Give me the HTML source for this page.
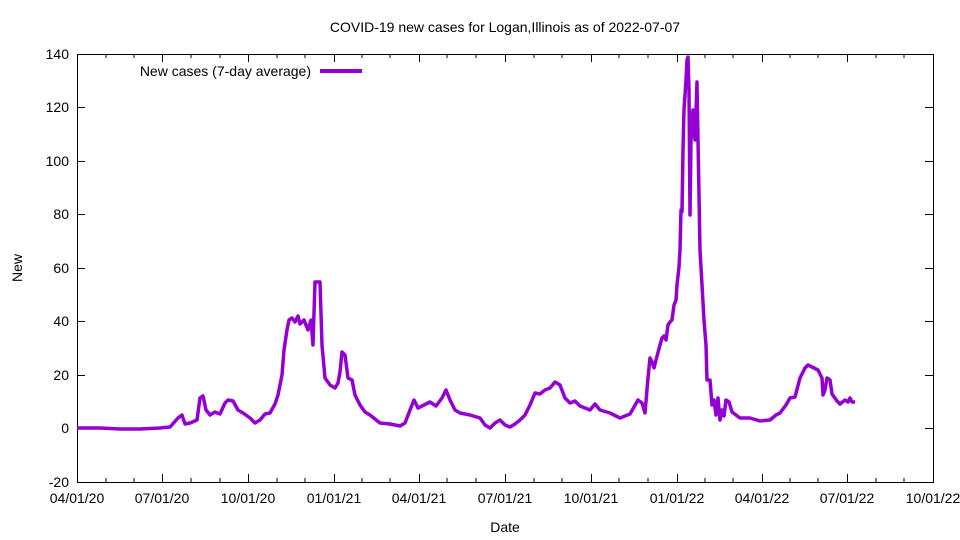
<!DOCTYPE html>
<html><head><meta charset="utf-8"><style>body{margin:0;background:#fff}svg{display:block}text{font-family:"Liberation Sans",sans-serif;font-size:14px;fill:#000}</style></head><body>
<svg width="960" height="540" viewBox="0 0 960 540">
<rect x="77.5" y="54.5" width="856" height="428" fill="none" stroke="#000" stroke-width="1"/>
<g stroke="#000" stroke-width="1">
<path d="M77 482.5h8M933 482.5h-8M77 428.5h8M933 428.5h-8M77 375.5h8M933 375.5h-8M77 321.5h8M933 321.5h-8M77 268.5h8M933 268.5h-8M77 214.5h8M933 214.5h-8M77 161.5h8M933 161.5h-8M77 107.5h8M933 107.5h-8M77 54.5h8M933 54.5h-8"/>
<path d="M162.5 482v-8M162.5 54v8M248.5 482v-8M248.5 54v8M334.5 482v-8M334.5 54v8M419.5 482v-8M419.5 54v8M505.5 482v-8M505.5 54v8M591.5 482v-8M591.5 54v8M677.5 482v-8M677.5 54v8M762.5 482v-8M762.5 54v8M847.5 482v-8M847.5 54v8"/>
<path d="M106 482v-4M106 54v4M134 482v-4M134 54v4M191 482v-4M191 54v4M220 482v-4M220 54v4M277 482v-4M277 54v4M305 482v-4M305 54v4M362 482v-4M362 54v4M390 482v-4M390 54v4M447 482v-4M447 54v4M476 482v-4M476 54v4M534 482v-4M534 54v4M562 482v-4M562 54v4M619 482v-4M619 54v4M648 482v-4M648 54v4M705 482v-4M705 54v4M733 482v-4M733 54v4M790 482v-4M790 54v4M818 482v-4M818 54v4M876 482v-4M876 54v4M904 482v-4M904 54v4"/>
</g>
<g text-anchor="end">
<text x="69" y="487">-20</text><text x="69" y="433">0</text><text x="69" y="380">20</text><text x="69" y="326">40</text><text x="69" y="273">60</text><text x="69" y="219">80</text><text x="69" y="166">100</text><text x="69" y="112">120</text><text x="69" y="59">140</text>
</g>
<g text-anchor="middle">
<text x="77" y="503">04/01/20</text><text x="162" y="503">07/01/20</text><text x="248" y="503">10/01/20</text><text x="334" y="503">01/01/21</text><text x="419" y="503">04/01/21</text><text x="505" y="503">07/01/21</text><text x="591" y="503">10/01/21</text><text x="677" y="503">01/01/22</text><text x="762" y="503">04/01/22</text><text x="847" y="503">07/01/22</text><text x="933" y="503">10/01/22</text>
<text x="505" y="532">Date</text>
<text x="505" y="32">COVID-19 new cases for Logan,Illinois as of 2022-07-07</text>
<text transform="translate(22,268) rotate(-90)">New</text>
</g>
<text x="311" y="76" text-anchor="end">New cases (7-day average)</text>
<path d="M320 71h42" stroke="#9400d3" stroke-width="4"/>
<polyline fill="none" stroke="#9400d3" stroke-width="3.5" stroke-linejoin="round" points="77,428 100,428 120,429 140,429 160,428 170,427 178,418 182,415 185,424 190,423 197,420 200,398 203,396 206,410 210,415 215,412 220,414 225,403 228,400 233,401 238,410 243,413 250,418 255,423 260,420 265,414 270,413 275,404 278,395 282,375 284,350 287,330 289,320 292,318 295,322 298,316 300,324 304,320 308,330 311,320 313,345 315,282 320,282 322,345 325,378 330,385 335,388 338,383 340,372 342,352 345,355 348,378 352,380 355,395 360,405 365,412 370,415 380,423 390,424 400,426 405,423 410,410 414,400 418,408 424,405 430,402 436,406 442,398 446,390 450,400 455,410 460,413 470,415 480,418 485,425 490,428 495,423 500,420 505,425 510,427 515,424 520,420 525,415 530,405 535,393 540,394 545,390 550,388 555,382 560,385 565,398 570,403 575,401 580,406 590,410 595,404 600,410 610,413 620,418 630,414 638,400 642,403 645,413 648,378 650,358 652,362 654,368 656,360 660,345 662,338 664,336 666,340 668,325 670,322 672,320 674,305 676,300 677,285 679,267 680,250 681,210 682,212 683,150 684,110 686,80 687,60 688,57 689,90 690,215 691,140 693,110 695,140 697,82 698,140 700,250 702,285 704,320 706,345 707,380 710,380 712,405 714,400 716,415 718,398 720,420 722,410 724,416 726,400 729,402 732,412 740,418 750,418 760,421 770,420 776,415 780,413 786,405 790,398 795,397 800,378 805,368 808,365 812,367 818,370 822,378 823,395 825,390 827,378 830,380 832,394 837,401 840,404 845,400 848,402 850,398 852,402 855,402"/>
</svg>
</body></html>
